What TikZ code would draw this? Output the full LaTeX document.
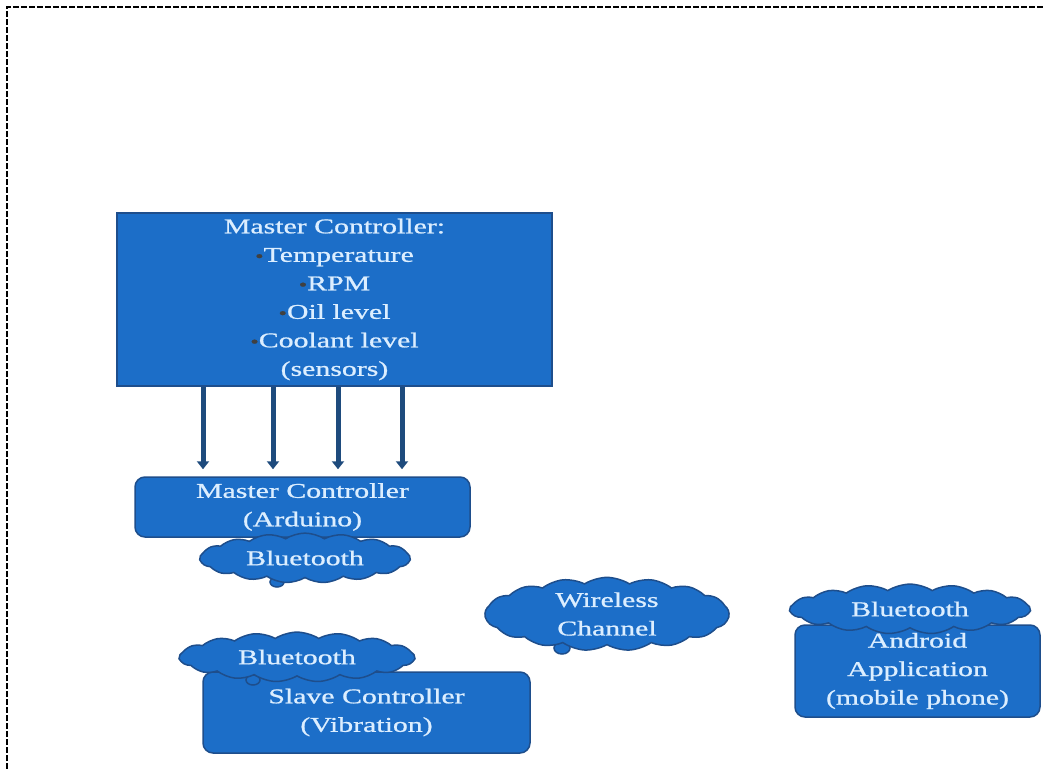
\documentclass[tikz,border=0pt]{standalone}
\usepackage{fontspec}
\setmainfont{Liberation Serif}[FakeStretch=1.42, FakeBold=0.9]
\usetikzlibrary{shapes.symbols, arrows.meta}

\definecolor{boxblue}{RGB}{28,110,200}
\definecolor{edgeblue}{RGB}{30,78,140}
\definecolor{arrowblue}{RGB}{30,75,125}
\definecolor{textblue}{RGB}{220,238,255}

\tikzset{
  unit/.style={draw=edgeblue, line width=1.5pt, fill=boxblue, text=textblue,
    align=center, inner sep=0pt, font=\fontsize{21}{28.5}\selectfont},
  block/.style={unit, rounded corners=10pt},
  bubble/.style={unit, cloud, cloud puffs=17, cloud puff arc=65, aspect=4},
  tail/.style={draw=edgeblue, line width=1.5pt, fill=boxblue},
  feed/.style={arrowblue, line width=5pt, shorten >=7pt,
    -{Triangle[width=12pt,length=8pt]}}
}

\newcommand{\dotmark}{{\color{black!75}\fontsize{17}{17}\selectfont\textbullet}}

\begin{document}
\begin{tikzpicture}[x=1pt, y=-1pt]
    \useasboundingbox (0,0) rectangle (1045,769);

    % Draw the frame
    \draw[line width=1.5pt, dash pattern=on 6pt off 2pt] (7,769) -- (7,7) -- (1045,7);

    % Sensor box and the Arduino
    \node[unit, minimum width=435pt, minimum height=173pt] (sensors) at (334.5,299.5)
      {Master Controller:\\ \dotmark Temperature\\ \dotmark RPM\\ \dotmark Oil level\\
       \dotmark Coolant level\\ (sensors)};
    \node[block, minimum width=335pt, minimum height=60pt] (arduino) at (302.5,507)
      {Master Controller\\ (Arduino)};

    % The four sensor lines
    \foreach \x in {203,273,338,402}
      \draw[feed] (\x,0 |- sensors.south) -- (\x,0 |- arduino.north);

    % Slave and phone
    \node[block, minimum width=327pt, minimum height=81pt] (slave) at (366.5,712.5)
      {Slave Controller\\ (Vibration)};
    \node[block, minimum width=245pt, minimum height=92pt] (android) at (917.5,671)
      {Android\\ Application\\ (mobile phone)};

    % Little tails under the clouds
    \draw[tail] (277,582) ellipse (7pt and 5pt);
    \draw[tail] (562,648) ellipse (8pt and 6pt);
    \draw[tail] (253,680) ellipse (7pt and 5pt);

    % The clouds
    \node[bubble, minimum width=210pt, minimum height=46pt] (btmaster) at (305,558) {Bluetooth};
    \node[bubble, minimum width=235pt, minimum height=62pt] (channel) at (607,614) {Wireless\\ Channel};
    \node[bubble, minimum width=235pt, minimum height=46pt] (btslave) at (297,657) {Bluetooth};
    \node[bubble, minimum width=240pt, minimum height=40pt] (btphone) at (910,609) {Bluetooth};

\end{tikzpicture}
\end{document}
